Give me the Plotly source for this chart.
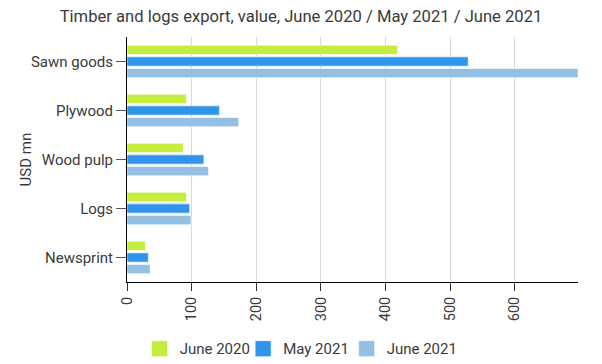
import plotly.graph_objects as go

categories = ["Sawn goods", "Plywood", "Wood pulp", "Logs", "Newsprint"]
series_names = ["June 2020", "May 2021", "June 2021"]
june_2020 = [419, 92, 87, 92, 28.5]
may_2021 = [528, 143, 119, 97, 33]
june_2021 = [698, 173, 126, 99, 36]
x_ticks = [0, 100, 200, 300, 400, 500, 600]

colors = ["#c4ed3d", "#2f95eb", "#94c1e3"]
values = [june_2020, may_2021, june_2021]

fig = go.Figure()
for name, vals, col in zip(series_names, values, colors):
    fig.add_trace(go.Bar(
        y=categories, x=vals, name=name, orientation="h", showlegend=False,
        legendgroup=name,
        marker=dict(color=col, line=dict(color="rgba(255,255,255,0.6)", width=1)),
    ))
# legend entries with larger square swatches
for name, col in zip(series_names, colors):
    fig.add_trace(go.Scatter(
        x=[None], y=[None], mode="markers", name=name, legendgroup=name,
        marker=dict(symbol="square", size=16, color=col,
                    line=dict(color="rgba(255,255,255,0.6)", width=1)),
    ))
# invisible spacer entry so the last label is not clipped
fig.add_trace(go.Scatter(x=[None], y=[None], mode="markers", name=" ",
                         marker=dict(color="rgba(0,0,0,0)", size=1)))

# page body has an 8px default margin, so the figure is 8px smaller on each axis
W, H = 594, 356
font_color = "#3a3a3a"
fig.update_layout(
    width=W, height=H,
    paper_bgcolor="white", plot_bgcolor="white",
    font=dict(family="Roboto", size=15, color=font_color),
    title=dict(text="Timber and logs export, value, June 2020 / May 2021 / June 2021",
               x=293 / W, xref="container", xanchor="center", y=1 - 8 / H, yanchor="middle",
               font=dict(size=16.6, color=font_color), automargin=False),
    margin=dict(l=119, r=24, t=29, b=82, autoexpand=False),
    barmode="group", bargap=0.29, bargroupgap=0.2,
    showlegend=True,
    legend=dict(orientation="h", x=0.028, xanchor="left",
                y=-0.273, yanchor="middle",
                font=dict(size=15, color=font_color), traceorder="normal",
                itemwidth=30, entrywidth=58.5, entrywidthmode="pixels"),
    xaxis=dict(range=[0, 698], tickvals=x_ticks, tickangle=-90, automargin=False,
               showgrid=True, gridcolor="#d8d8e0", gridwidth=1,
               showline=True, linecolor="black", linewidth=1,
               ticks="outside", ticklen=8, tickcolor="#333333",
               zeroline=False, tickfont=dict(size=14.5, color=font_color)),
    yaxis=dict(autorange="reversed", showline=True, linecolor="black", linewidth=1,
               automargin=False,
               ticks="outside", ticklen=10, tickcolor="#555555",
               showgrid=False, tickfont=dict(size=15, color=font_color)),
    annotations=[dict(text="USD mn", xref="paper", yref="paper", x=-0.224, y=0.5,
                      xanchor="center", yanchor="middle", textangle=-90, showarrow=False,
                      font=dict(size=15, color=font_color))],
)

fig.write_html("out.html")
